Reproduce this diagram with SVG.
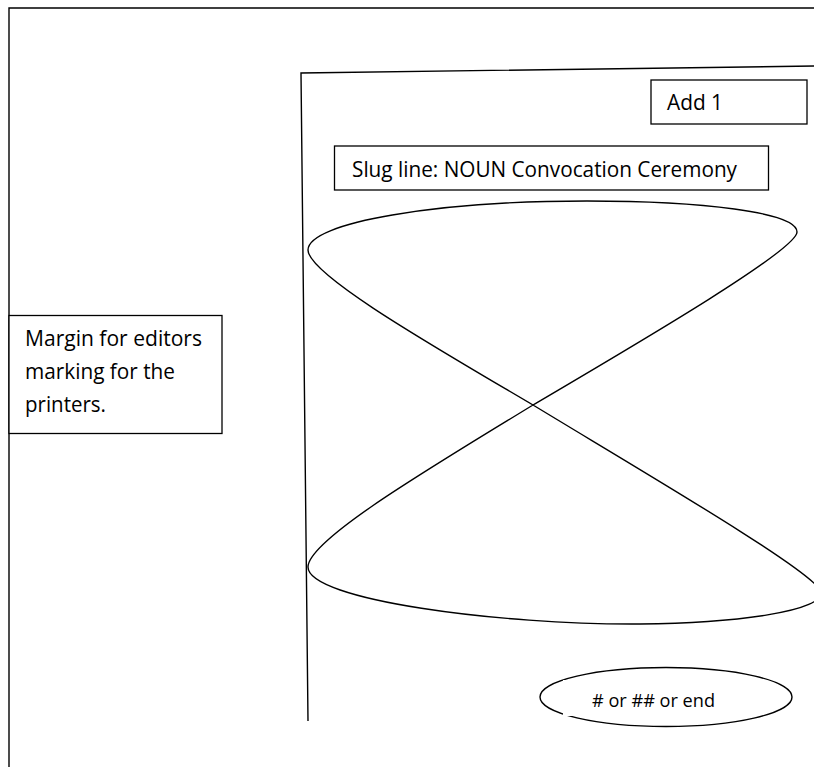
<svg xmlns="http://www.w3.org/2000/svg" width="814" height="767" viewBox="0 0 814 767">
<style>
.ln{fill:none;stroke:#000;stroke-width:1.4}
.bx{fill:#fff;stroke:#000;stroke-width:1.3}
.t{font-family:"Open Sans","Liberation Sans",sans-serif;font-size:21px;fill:#000}
</style>
<rect width="814" height="767" fill="#fff"/>
<g id="frame">
<path class="ln" d="M9,767 L9,8 L814,8"/>
</g>
<g id="page">
<path class="ln" d="M308,721 L301,73 L814,66"/>
</g>
<g id="add1">
<rect class="bx" x="651" y="80" width="156" height="44"/>
<text class="t" x="667" y="110" textLength="56" lengthAdjust="spacingAndGlyphs">Add 1</text>
</g>
<g id="slug">
<rect class="bx" x="334.5" y="146" width="434" height="44"/>
<text class="t" x="352" y="176.5" textLength="385" lengthAdjust="spacingAndGlyphs">Slug line: NOUN Convocation Ceremony</text>
</g>
<g id="bowtie">
<path class="ln" d="M533,405 C440,350 308,275 308,250 C308,222 440,201 587,201 C700,201 797,212 797,232 C797,250 640,342 533,405 C430,468 308,540 308,567 C308,600 500,625 640,624 C730,623 830,612 820,590 C808,568 640,470 533,405 Z"/>
</g>
<g id="margin">
<rect class="bx" x="9" y="315.5" width="213" height="118"/>
<text class="t" x="25" y="346" textLength="177" lengthAdjust="spacingAndGlyphs">Margin for editors</text>
<text class="t" x="25" y="379" textLength="150" lengthAdjust="spacingAndGlyphs">marking for the</text>
<text class="t" x="25" y="412" textLength="81" lengthAdjust="spacingAndGlyphs">printers.</text>
</g>
<g id="end">
<ellipse class="ln" cx="666" cy="697" rx="126" ry="29.5"/>
<rect x="563" y="680" width="180" height="36" fill="#fff"/>
<text class="t" x="592" y="707" style="font-size:19px" textLength="123" lengthAdjust="spacingAndGlyphs"># or ## or end</text>
</g>
</svg>
